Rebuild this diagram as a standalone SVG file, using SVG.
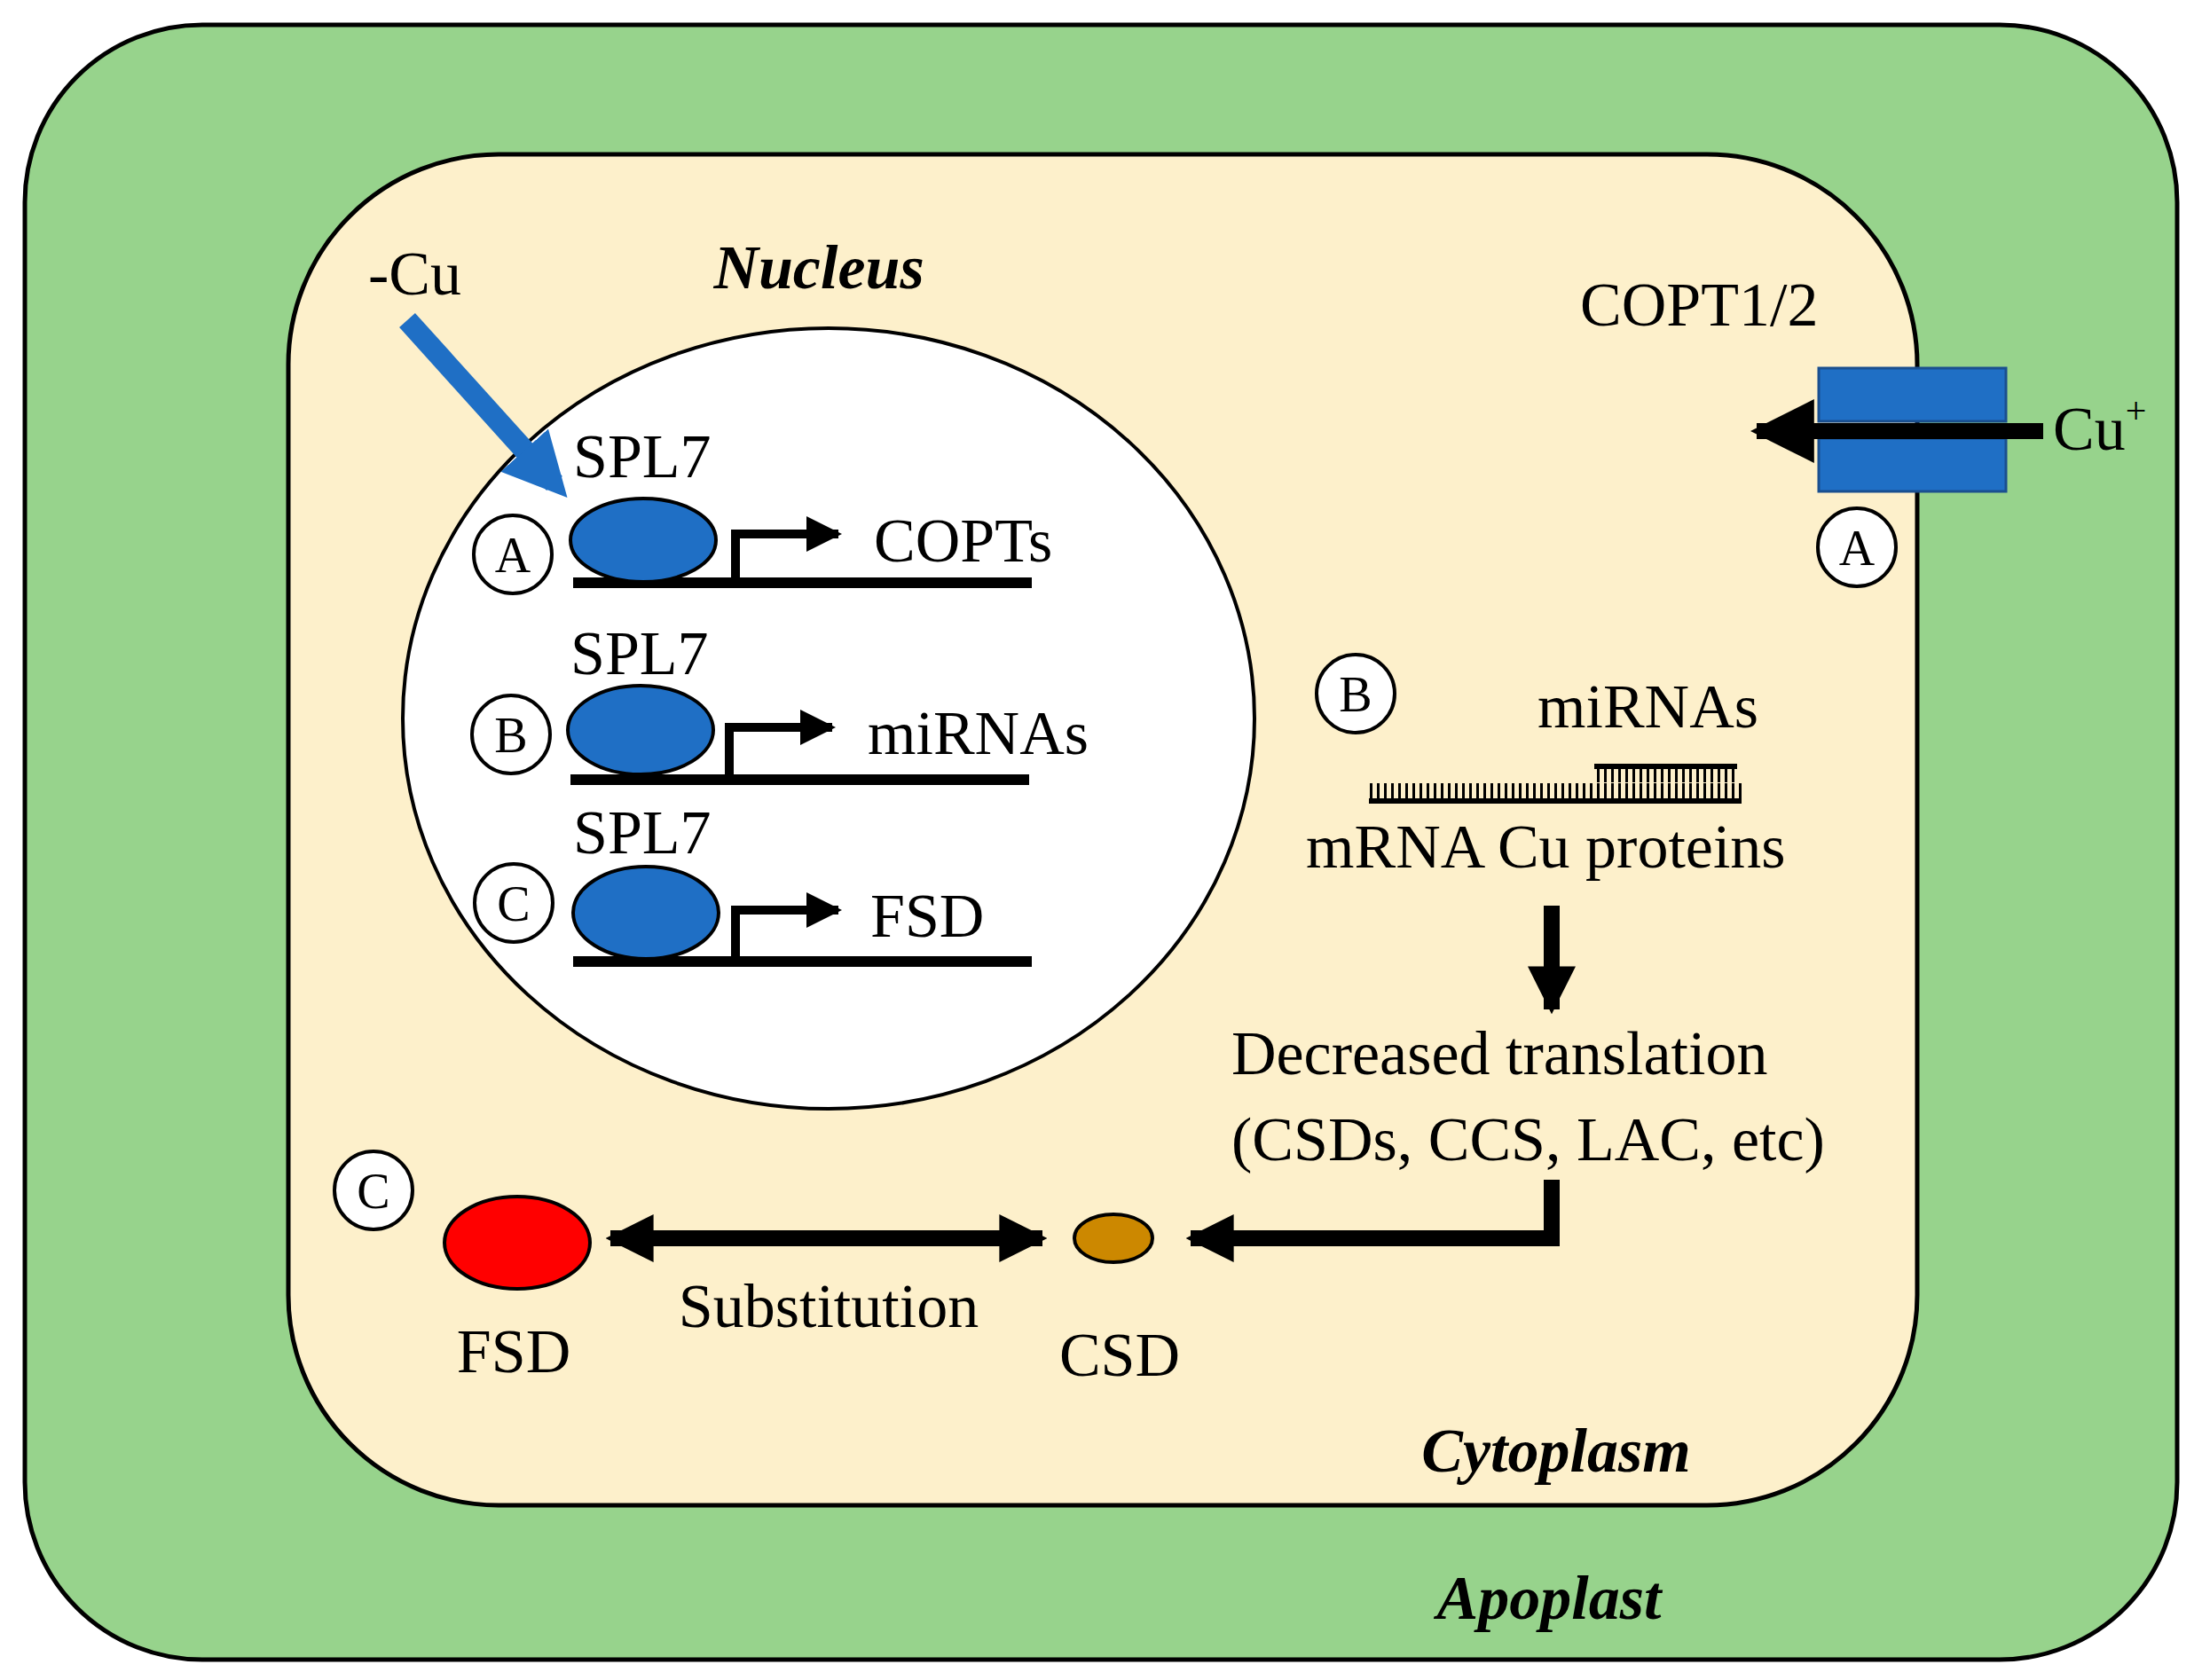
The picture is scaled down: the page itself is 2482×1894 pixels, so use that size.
<svg xmlns="http://www.w3.org/2000/svg" width="2482" height="1894" viewBox="0 0 2482 1894">
<style>
text{font-family:"Liberation Serif","Times New Roman",serif;fill:#000}
.t{font-size:70px}
.bi{font-size:70px;font-weight:bold;font-style:italic}
.cl{font-size:56px;text-anchor:middle}
.circ{fill:#fff;stroke:#000;stroke-width:4}
.dna{stroke:#000;stroke-width:12}
.ln{stroke:#000;stroke-width:18;fill:none}
.spl{fill:#1f6fc5;stroke:#000;stroke-width:4}
</style>
<defs>
<marker id="ah" viewBox="0 0 10 10" refX="9" refY="5" markerWidth="3" markerHeight="3" orient="auto-start-reverse"><path d="M0,0L10,5L0,10z" fill="#000"/></marker>
<marker id="ahs" viewBox="0 0 10 10" refX="9" refY="5" markerWidth="4" markerHeight="4" orient="auto"><path d="M0,0L10,5L0,10z" fill="#000"/></marker>
<marker id="ahb" viewBox="0 0 10 10" refX="7" refY="5" markerWidth="3" markerHeight="3" orient="auto"><path d="M0,0L10,5L0,10z" fill="#1f6fc5"/></marker>
<pattern id="tk" width="8" height="19" patternUnits="userSpaceOnUse"><rect x="0" y="0" width="3" height="19" fill="#000"/></pattern>
</defs>
<g id="apoplast"><rect x="28" y="28" width="2426" height="1843" rx="200" fill="#97d38c" stroke="#000" stroke-width="5"/><text class="bi" x="1746" y="1825" text-anchor="middle">Apoplast</text></g>
<g id="cytoplasm"><rect x="325" y="174" width="1836" height="1523" rx="237" fill="#fdf0cb" stroke="#000" stroke-width="5"/><text class="bi" x="1754" y="1659" text-anchor="middle">Cytoplasm</text></g>
<g id="nucleus"><ellipse cx="934" cy="810" rx="480" ry="440" fill="#fff" stroke="#000" stroke-width="4"/><text class="bi" x="923" y="325" text-anchor="middle">Nucleus</text></g>
<g id="cu-signal"><text class="t" x="415" y="332">-Cu</text></g>
<g id="geneA"><line class="dna" x1="646" y1="657" x2="1163" y2="657"/><ellipse class="spl" cx="725" cy="609" rx="82" ry="47"/><text class="t" x="646" y="538">SPL7</text><text class="t" x="985" y="633">COPTs</text><circle class="circ" cx="578" cy="625" r="44"/><text class="cl" x="578" y="645">A</text></g>
<g id="geneB"><line class="dna" x1="643" y1="879" x2="1160" y2="879"/><ellipse class="spl" cx="722" cy="823" rx="82" ry="50"/><text class="t" x="643" y="760">SPL7</text><text class="t" x="978" y="850">miRNAs</text><circle class="circ" cx="576" cy="828" r="44"/><text class="cl" x="576" y="848">B</text></g>
<g id="geneC"><line class="dna" x1="646" y1="1084" x2="1163" y2="1084"/><ellipse class="spl" cx="728" cy="1029" rx="82" ry="52"/><text class="t" x="646" y="962">SPL7</text><text class="t" x="981" y="1056">FSD</text><circle class="circ" cx="579" cy="1018" r="44"/><text class="cl" x="579" y="1038">C</text></g>
<g id="copt"><text class="t" x="1781" y="367">COPT1/2</text><rect x="2050" y="415" width="211" height="60" fill="#1f6fc5" stroke="#1a4f8f" stroke-width="3"/><rect x="2050" y="494" width="211" height="60" fill="#1f6fc5" stroke="#1a4f8f" stroke-width="3"/><text class="t" x="2314" y="507">Cu<tspan font-size="42" dy="-30">+</tspan></text><circle class="circ" cx="2093" cy="617" r="44"/><text class="cl" x="2093" y="637">A</text></g>
<g id="mirna"><circle class="circ" cx="1528" cy="782" r="44"/><text class="cl" x="1528" y="802">B</text><text class="t" x="1733" y="820">miRNAs</text>
<rect x="1543" y="883" width="420" height="19" fill="url(#tk)"/><rect x="1543" y="900" width="420" height="6" fill="#000"/>
<rect x="1797" y="861" width="161" height="6" fill="#000"/><rect x="1797" y="865" width="161" height="17" fill="url(#tk)"/>
<text class="t" x="1472" y="978">mRNA Cu proteins</text></g>
<g id="translation"><text class="t" x="1388" y="1211">Decreased translation</text><text class="t" x="1388" y="1308">(CSDs, CCS, LAC, etc)</text></g>
<g id="fsd"><ellipse cx="583" cy="1401" rx="82" ry="52" fill="#f00" stroke="#000" stroke-width="4"/><text class="t" x="579" y="1547" text-anchor="middle">FSD</text><circle class="circ" cx="421" cy="1342" r="44"/><text class="cl" x="421" y="1362">C</text></g>
<g id="csd"><ellipse cx="1255" cy="1396" rx="44" ry="27" fill="#cc8800" stroke="#000" stroke-width="4"/><text class="t" x="1262" y="1551" text-anchor="middle">CSD</text></g>
<g id="connectors">
<line x1="459" y1="361" x2="625" y2="545" stroke="#1f6fc5" stroke-width="24" marker-end="url(#ahb)"/>
<path d="M829 657V602H945" stroke="#000" stroke-width="10" fill="none" marker-end="url(#ahs)"/>
<path d="M822 879V820H938" stroke="#000" stroke-width="10" fill="none" marker-end="url(#ahs)"/>
<path d="M829 1084V1026H945" stroke="#000" stroke-width="10" fill="none" marker-end="url(#ahs)"/>
<line class="ln" x1="2303" y1="486" x2="1980" y2="486" stroke-width="12" marker-end="url(#ahs)"/>
<line class="ln" x1="1749" y1="1021" x2="1749" y2="1138" marker-end="url(#ah)"/>
<path class="ln" d="M1749 1330V1396H1342" marker-end="url(#ah)"/>
<line class="ln" x1="688" y1="1396" x2="1175" y2="1396" stroke-width="14" marker-start="url(#ah)" marker-end="url(#ah)"/>
<text class="t" x="934" y="1496" text-anchor="middle">Substitution</text>
</g>
</svg>
